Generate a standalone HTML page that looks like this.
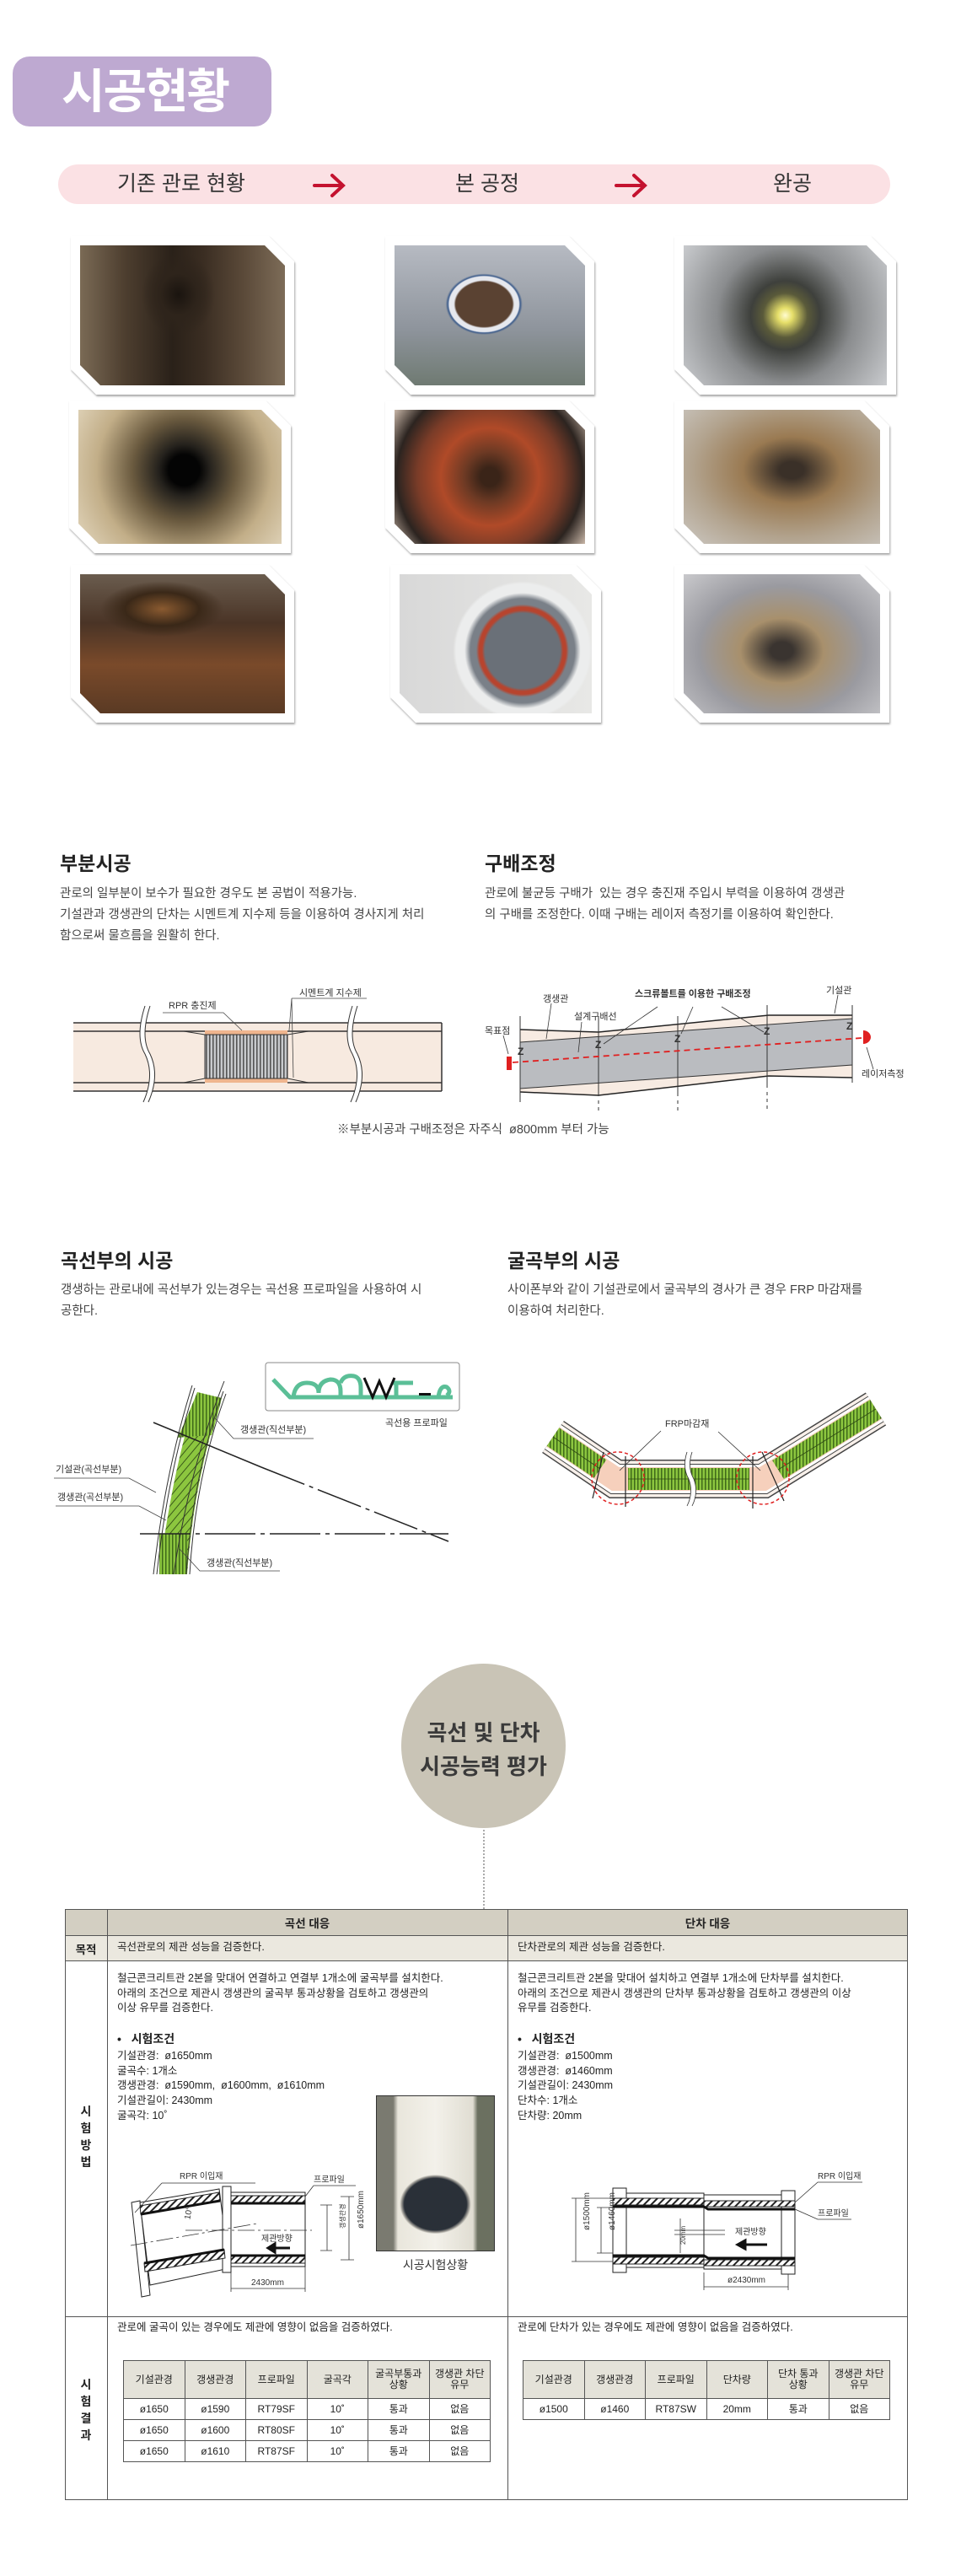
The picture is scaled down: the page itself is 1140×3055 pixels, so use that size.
<!DOCTYPE html>
<html><head><meta charset="utf-8">
<style>
*{margin:0;padding:0;box-sizing:border-box}
body{width:1140px;height:3055px;background:#fff;position:relative;overflow:hidden;font-family:"Liberation Sans","Noto Sans CJK KR",sans-serif;color:#333}
.a{position:absolute;white-space:nowrap}
.badge{left:15px;top:67px;width:307px;height:83px;background:#bea9d1;border-radius:20px;color:#fff;font-weight:bold;font-size:56px;line-height:83px;padding-left:58px;letter-spacing:-2px}
.bar{left:69px;top:195px;width:987px;height:47px;background:#fbe1e4;border-radius:24px}
.bl{font-size:25px;color:#333;top:195px;line-height:47px;transform:translateX(-50%)}
.ph{position:absolute;filter:drop-shadow(1px 2px 1px rgba(0,0,0,.35))}
.ph .f{position:absolute;inset:0;background:#fff;clip-path:polygon(0 0,calc(100% - 30px) 0,100% 30px,100% 100%,30px 100%,0 calc(100% - 30px))}
.ph .i{position:absolute;inset:11px;clip-path:polygon(0 0,calc(100% - 24px) 0,100% 24px,100% 100%,24px 100%,0 calc(100% - 24px))}
.h2{font-size:23px;font-weight:bold;color:#222}
.p{font-size:14.5px;color:#444;line-height:25px;white-space:normal}
.t{font-size:12.5px;color:#222;line-height:17.7px;white-space:normal}
table.in{position:absolute;border-collapse:collapse;table-layout:fixed;font-size:12px;color:#222;text-align:center}
table.in td{border:1.5px solid #555;padding:0;line-height:13px;width:16.66%}
table.in tr.hd td{background:#e4e2d9;height:45px}
table.in tr.r td{height:25px}
</style></head><body>

<div class="a badge">시공현황</div>
<div class="a bar"></div>
<div class="a bl" style="left:215px">기존 관로 현황</div>
<div class="a bl" style="left:578px">본 공정</div>
<div class="a bl" style="left:940px">완공</div>

<div class="ph" style="left:84px;top:280px;width:265px;height:188px"><div class="f"></div><div class="i" style="background:radial-gradient(ellipse 18% 30% at 48% 35%,#1a140f 0,#2e241b 50%,transparent 100%),linear-gradient(90deg,#7a6a55 0,#4d3e2f 22%,#2a2119 45%,#3a2d22 60%,#5b4a39 80%,#7d6c58 100%)"></div></div>
<div class="ph" style="left:457px;top:280px;width:248px;height:188px"><div class="f"></div><div class="i" style="background:radial-gradient(ellipse 24% 26% at 47% 42%,#5a4232 0 62%,#e6e8ee 66% 76%,#3a5a8a 79%,transparent 84%),linear-gradient(180deg,#b6bac2 0,#8e949c 60%,#6f7a72 100%)"></div></div>
<div class="ph" style="left:800px;top:280px;width:263px;height:188px"><div class="f"></div><div class="i" style="background:radial-gradient(circle at 50% 50%,#fffbd0 0,#e6df6a 6%,#5a5a3a 18%,#3e403c 28%,#8a8c8e 55%,#c9cbce 100%)"></div></div>

<div class="ph" style="left:82px;top:475px;width:263px;height:181px"><div class="f"></div><div class="i" style="background:radial-gradient(circle at 52% 45%,#040404 0 12%,#25221d 20%,#6a5a3f 40%,#c2ae88 68%,#e2d6bd 100%)"></div></div>
<div class="ph" style="left:457px;top:475px;width:248px;height:181px"><div class="f"></div><div class="i" style="background:radial-gradient(circle at 50% 50%,#3a2418 0 8%,#6e3a24 22%,#b04a28 42%,#7a3c28 62%,#2c2420 80%,#c9b7a8 100%)"></div></div>
<div class="ph" style="left:800px;top:475px;width:255px;height:181px"><div class="f"></div><div class="i" style="background:radial-gradient(ellipse at 55% 45%,#3a3028 0 8%,#9a7a52 32%,#b2a38e 65%,#cbc7c1 100%)"></div></div>

<div class="ph" style="left:84px;top:670px;width:265px;height:187px"><div class="f"></div><div class="i" style="background:radial-gradient(ellipse 30% 20% at 40% 25%,#8a5a30 0,#3a2818 60%,transparent 100%),linear-gradient(180deg,#6a5c4e 0,#4a3426 35%,#7a4a2a 65%,#5a3a24 100%)"></div></div>
<div class="ph" style="left:463px;top:670px;width:250px;height:187px"><div class="f"></div><div class="i" style="background:radial-gradient(circle at 64% 55%,#6a7078 0 26%,#b7442e 28% 30%,#7a8088 32% 36%,#eceded 40% 46%,transparent 48%),linear-gradient(90deg,#d8d8d8 0,#e8e8e6 100%)"></div></div>
<div class="ph" style="left:800px;top:670px;width:255px;height:187px"><div class="f"></div><div class="i" style="background:radial-gradient(ellipse at 50% 55%,#3a3430 0 8%,#a8906c 30%,#9a9aa0 60%,#c9c9cc 100%)"></div></div>

<div class="a h2" style="left:71px;top:1005px">부분시공</div>
<div class="a p" style="left:71px;top:1048px;width:480px">관로의 일부분이 보수가 필요한 경우도 본 공법이 적용가능.<br>기설관과 갱생관의 단차는 시멘트계 지수제 등을 이용하여 경사지게 처리<br>함으로써 물흐름을 원활히 한다.</div>
<div class="a h2" style="left:575px;top:1005px">구배조정</div>
<div class="a p" style="left:575px;top:1048px;width:500px">관로에 불균등 구배가&nbsp; 있는 경우 충진재 주입시 부력을 이용하여 갱생관<br>의 구배를 조정한다. 이때 구배는 레이저 측정기를 이용하여 확인한다.</div>
<div class="a" style="left:400px;top:1328px;font-size:14.5px;color:#444">※부분시공과 구배조정은 자주식&nbsp; ø800mm 부터 가능</div>

<div class="a h2" style="left:72px;top:1476px">곡선부의 시공</div>
<div class="a p" style="left:72px;top:1518px;width:500px">갱생하는 관로내에 곡선부가 있는경우는 곡선용 프로파일을 사용하여 시<br>공한다.</div>
<div class="a h2" style="left:602px;top:1476px">굴곡부의 시공</div>
<div class="a p" style="left:602px;top:1518px;width:520px">사이폰부와 같이 기설관로에서 굴곡부의 경사가 큰 경우 FRP 마감재를<br>이용하여 처리한다.</div>

<div class="a" style="left:476px;top:1973px;width:195px;height:195px;border-radius:50%;background:#c9c4b6"></div>
<div class="a" style="left:476px;top:2035px;width:195px;text-align:center;font-size:26px;font-weight:bold;color:#3a3a3a;line-height:40px;white-space:normal">곡선 및 단차<br>시공능력 평가</div>
<div class="a" style="left:573px;top:2170px;height:94px;border-left:2px dotted #aaa"></div>

<div class="a" style="left:77px;top:2264px;width:1000px;height:701px;border:1.5px solid #555"></div>
<div class="a" style="left:78px;top:2265px;width:998px;height:30px;background:#d3cfc2"></div>
<div class="a" style="left:78px;top:2295px;width:998px;height:30px;background:#ebe8df"></div>
<div class="a" style="left:77px;top:2295px;width:1000px;border-top:1.5px solid #555"></div>
<div class="a" style="left:77px;top:2325px;width:1000px;border-top:1.5px solid #555"></div>
<div class="a" style="left:77px;top:2747px;width:1000px;border-top:1.5px solid #555"></div>
<div class="a" style="left:127px;top:2264px;height:701px;border-left:1.5px solid #555"></div>
<div class="a" style="left:602px;top:2264px;height:701px;border-left:1.5px solid #555"></div>
<div class="a" style="left:127px;top:2270px;width:475px;text-align:center;font-size:13.5px;font-weight:bold;color:#222">곡선 대응</div>
<div class="a" style="left:602px;top:2270px;width:475px;text-align:center;font-size:13.5px;font-weight:bold;color:#222">단차 대응</div>
<div class="a" style="left:77px;top:2301px;width:50px;text-align:center;font-size:13.5px;font-weight:bold;color:#222">목적</div>
<div class="a t" style="left:139px;top:2301px">곡선관로의 제관 성능을 검증한다.</div>
<div class="a t" style="left:614px;top:2301px">단차관로의 제관 성능을 검증한다.</div>
<div class="a" style="left:77px;top:2494px;width:50px;text-align:center;font-size:14px;font-weight:bold;color:#222;line-height:20px;white-space:normal">시<br>험<br>방<br>법</div>
<div class="a" style="left:77px;top:2818px;width:50px;text-align:center;font-size:14px;font-weight:bold;color:#222;line-height:20px;white-space:normal">시<br>험<br>결<br>과</div>

<div class="a t" style="left:139px;top:2338px;width:460px">철근콘크리트관 2본을 맞대어 연결하고 연결부 1개소에 굴곡부를 설치한다.<br>아래의 조건으로 제관시 갱생관의 굴곡부 통과상황을 검토하고 갱생관의<br>이상 유무를 검증한다.</div>
<div class="a" style="left:139px;top:2408px;font-size:14px;font-weight:bold;color:#222">•&nbsp;&nbsp; 시험조건</div>
<div class="a t" style="left:139px;top:2430px">기설관경:&nbsp; ø1650mm<br>굴곡수: 1개소<br>갱생관경:&nbsp; ø1590mm,&nbsp; ø1600mm,&nbsp; ø1610mm<br>기설관길이: 2430mm<br>굴곡각: 10˚</div>

<div class="a t" style="left:614px;top:2338px;width:460px">철근콘크리트관 2본을 맞대어 설치하고 연결부 1개소에 단차부를 설치한다.<br>아래의 조건으로 제관시 갱생관의 단차부 통과상황을 검토하고 갱생관의 이상<br>유무를 검증한다.</div>
<div class="a" style="left:614px;top:2408px;font-size:14px;font-weight:bold;color:#222">•&nbsp;&nbsp; 시험조건</div>
<div class="a t" style="left:614px;top:2430px">기설관경:&nbsp; ø1500mm<br>갱생관경:&nbsp; ø1460mm<br>기설관길이: 2430mm<br>단차수: 1개소<br>단차량: 20mm</div>

<div class="a" style="left:446px;top:2485px;width:141px;height:185px;border:1px solid #333;background:radial-gradient(ellipse 38% 24% at 50% 70%,#2a3038 0 70%,#9c9a94 76%,transparent 80%),linear-gradient(90deg,#7a7a70 0,#7a7a70 14%,#e9e6dc 18%,#f3f1ea 50%,#e0ddd2 82%,#6b7060 86%,#6b7060 100%)"></div>
<div class="a" style="left:446px;top:2676px;width:141px;text-align:center;font-size:14px;color:#333">시공시험상황</div>

<div class="a t" style="left:139px;top:2752px">관로에 굴곡이 있는 경우에도 제관에 영향이 없음을 검증하였다.</div>
<div class="a t" style="left:614px;top:2752px">관로에 단차가 있는 경우에도 제관에 영향이 없음을 검증하였다.</div>

<table class="in" style="left:146px;top:2799px;width:436px">
<tr class="hd"><td>기설관경</td><td>갱생관경</td><td>프로파일</td><td>굴곡각</td><td>굴곡부통과<br>상황</td><td>갱생관 차단<br>유무</td></tr>
<tr class="r"><td>ø1650</td><td>ø1590</td><td>RT79SF</td><td>10˚</td><td>통과</td><td>없음</td></tr>
<tr class="r"><td>ø1650</td><td>ø1600</td><td>RT80SF</td><td>10˚</td><td>통과</td><td>없음</td></tr>
<tr class="r"><td>ø1650</td><td>ø1610</td><td>RT87SF</td><td>10˚</td><td>통과</td><td>없음</td></tr>
</table>
<table class="in" style="left:620px;top:2799px;width:436px">
<tr class="hd"><td>기설관경</td><td>갱생관경</td><td>프로파일</td><td>단차량</td><td>단차 통과<br>상황</td><td>갱생관 차단<br>유무</td></tr>
<tr class="r"><td>ø1500</td><td>ø1460</td><td>RT87SW</td><td>20mm</td><td>통과</td><td>없음</td></tr>
</table>

<svg class="a" style="left:0;top:0" width="1140" height="3055" viewBox="0 0 1140 3055" font-family="Liberation Sans, Noto Sans CJK KR, sans-serif">
<defs>
<pattern id="vs" width="4" height="10" patternUnits="userSpaceOnUse"><rect width="4" height="10" fill="#c8cacd"/><rect width="1.6" height="10" fill="#555"/></pattern>
<pattern id="gs" width="4" height="10" patternUnits="userSpaceOnUse"><rect width="4" height="10" fill="#8cc63f"/><rect width="1.5" height="10" fill="#3f6a1a"/></pattern>
<pattern id="hs" width="6" height="6" patternUnits="userSpaceOnUse" patternTransform="rotate(45)"><rect width="6" height="6" fill="#fff"/><rect width="2" height="6" fill="#222"/></pattern>
<pattern id="gh" width="7" height="7" patternUnits="userSpaceOnUse" patternTransform="rotate(40)"><rect width="7" height="7" fill="#8cc63f"/><rect width="1" height="7" fill="#3a5a1a"/></pattern>
</defs>

<g stroke="#c4122f" stroke-width="4" fill="none" stroke-linecap="round">
<path d="M373 220 H405 M394 208 L407 220 L394 232"/>
<path d="M731 220 H763 M752 208 L765 220 L752 232"/>
</g>

<g stroke="#333" stroke-width="1.5">
<rect x="87" y="1213" width="437" height="81" fill="#f7eae0" stroke="none"/>
<line x1="87" y1="1213" x2="524" y2="1213"/><line x1="87" y1="1294" x2="524" y2="1294"/>
<line x1="524" y1="1213" x2="524" y2="1294"/>
<line x1="87" y1="1223" x2="243" y2="1223"/><line x1="341" y1="1223" x2="524" y2="1223"/>
<line x1="87" y1="1284" x2="243" y2="1284"/><line x1="341" y1="1284" x2="524" y2="1284"/>
<rect x="243" y="1222" width="98" height="5" fill="#efb58e" stroke="none"/>
<rect x="243" y="1279" width="98" height="5" fill="#efb58e" stroke="none"/>
<rect x="243" y="1227" width="98" height="52" fill="url(#vs)" stroke-width="1"/>
<path d="M218 1223 L243 1227 M218 1284 L243 1279 M366 1223 L341 1227 M366 1284 L341 1279" stroke-width="1"/>
</g>
<g fill="#fff" stroke="#333" stroke-width="1">
<path d="M172 1193 Q160 1230 172 1250 Q184 1275 170 1307 L176 1307 Q190 1275 178 1250 Q166 1230 178 1193 Z" stroke="none"/>
<path d="M172 1193 Q160 1230 172 1250 Q184 1275 170 1307 M178 1193 Q166 1230 178 1250 Q190 1275 176 1307" fill="none"/>
<path d="M418 1193 Q406 1230 418 1250 Q430 1275 416 1307 L422 1307 Q436 1275 424 1250 Q412 1230 424 1193 Z" stroke="none"/>
<path d="M418 1193 Q406 1230 418 1250 Q430 1275 416 1307 M424 1193 Q412 1230 424 1250 Q436 1275 422 1307" fill="none"/>
</g>
<g stroke="#444" stroke-width="0.8" fill="none">
<path d="M193 1201 H265 L287 1222"/>
<path d="M346 1184 H435 M346 1184 L343 1222 M346 1184 L348 1278"/>
</g>
<text x="200" y="1196" font-size="11" fill="#333">RPR 충진제</text>
<text x="355" y="1181" font-size="11" fill="#333">시멘트계 지수제</text>

<polygon points="617,1221 710,1224 912,1204 1011,1204 1011,1278 912,1276 710,1299 617,1295" fill="#f7ebe2"/>
<polyline points="617,1221 710,1224 912,1204 1011,1204" fill="none" stroke="#222" stroke-width="1.5"/>
<polyline points="617,1295 710,1299 912,1276 1011,1278" fill="none" stroke="#222" stroke-width="1.5"/>
<polygon points="617,1236 1011,1208 1011,1263 617,1291" fill="#babcc0" stroke="#333" stroke-width="1"/>
<g stroke="#333" stroke-width="1">
<line x1="617" y1="1205" x2="617" y2="1307"/>
<line x1="710" y1="1206" x2="710" y2="1300"/><line x1="710" y1="1305" x2="710" y2="1321" stroke-dasharray="4 4"/>
<line x1="804" y1="1205" x2="804" y2="1300"/><line x1="804" y1="1305" x2="804" y2="1321" stroke-dasharray="4 4"/>
<line x1="910" y1="1192" x2="910" y2="1290"/><line x1="910" y1="1295" x2="910" y2="1319" stroke-dasharray="4 4"/>
<line x1="1011" y1="1192" x2="1011" y2="1284"/>
</g>
<g font-size="12" fill="#333" font-weight="bold"><text x="614" y="1251">Z</text><text x="706" y="1243">Z</text><text x="800" y="1236">Z</text><text x="906" y="1227">Z</text><text x="1004" y="1221">Z</text></g>
<line x1="608" y1="1260" x2="1022" y2="1231" stroke="#e02020" stroke-width="1.8" stroke-dasharray="7 5"/>
<rect x="601" y="1253" width="6" height="16" fill="#e02020"/>
<path d="M1024 1222 A9 8 0 0 1 1024 1238 Z" fill="#e02020"/>
<g stroke="#333" stroke-width="0.8" fill="none">
<path d="M597 1228 L603 1250"/><path d="M654 1190 L648 1232"/><path d="M690 1212 L686 1248"/>
<path d="M780 1194 L716 1238 M822 1194 L808 1226 M856 1194 L906 1224"/>
<path d="M994 1180 L990 1202"/><path d="M1036 1268 L1028 1242"/>
</g>
<g font-size="11" fill="#333">
<text x="575" y="1226">목표점</text><text x="644" y="1188">갱생관</text><text x="681" y="1209">설계구배선</text>
<text x="753" y="1182" font-weight="bold">스크류볼트를 이용한 구배조정</text>
<text x="980" y="1178">기설관</text><text x="1022" y="1277">레이저측정</text>
</g>

<rect x="315" y="1616" width="230" height="57" rx="3" fill="#fff" stroke="#888" stroke-width="1"/>
<path d="M324 1636 L344 1657 L537 1657 M348 1657 Q350 1640 364 1640 Q378 1640 378 1652 M378 1652 Q378 1638 392 1636 Q404 1636 404 1650 L404 1657 M404 1640 Q408 1630 420 1632 Q428 1634 428 1646 L428 1657 M470 1640 L470 1657 M465 1640 L490 1640 M520 1657 Q522 1642 530 1645 Q536 1650 530 1655" fill="none" stroke="#5bbf97" stroke-width="5" stroke-linejoin="round"/>
<path d="M432 1634 L442 1657 L450 1638 L458 1657 L468 1634" fill="none" stroke="#111" stroke-width="3"/>
<rect x="497" y="1652" width="14" height="3" fill="#111"/>
<text x="457" y="1691" font-size="11" fill="#333">곡선용 프로파일</text>
<path d="M234 1651 Q203 1750 189 1867 L222 1867 Q230 1755 263 1658 Z" fill="url(#gh)"/>
<path d="M234 1651 Q214 1700 210 1705 L251 1702 Q258 1680 263 1658 Z" fill="url(#gs)"/>
<rect x="189" y="1819" width="33" height="48" fill="url(#gs)"/>
<g fill="none" stroke="#333" stroke-width="1">
<path d="M228 1643 Q196 1745 182 1867"/><path d="M231 1646 Q199 1748 186 1867"/>
<path d="M268 1653 Q232 1750 225 1867"/><path d="M265 1650 Q229 1748 221 1867"/>
<path d="M266 1638 Q225 1740 206 1867"/>
</g>
<line x1="182" y1="1687" x2="310" y2="1740" stroke="#222" stroke-width="1.5"/>
<line x1="310" y1="1740" x2="532" y2="1828" stroke="#222" stroke-width="1.5" stroke-dasharray="55 6 5 6"/>
<line x1="166" y1="1819" x2="532" y2="1819" stroke="#222" stroke-width="1.5" stroke-dasharray="60 6 5 6"/>
<g stroke="#444" stroke-width="0.8" fill="none">
<path d="M372 1706 H277 L255 1682"/><path d="M64 1753 H153 L185 1770"/><path d="M66 1786 H165 L197 1803"/><path d="M332 1863 H237 L213 1837"/>
</g>
<g font-size="11" fill="#333">
<text x="285" y="1699">갱생관(직선부분)</text><text x="66" y="1746">기설관(곡선부분)</text><text x="68" y="1779">갱생관(곡선부분)</text><text x="245" y="1857">갱생관(직선부분)</text>
</g>

<g fill="none" stroke-linejoin="miter">
<polyline points="656,1704 730,1754 905,1754 1039,1671" stroke="#444" stroke-width="46"/>
<polyline points="656,1704 730,1754 905,1754 1039,1671" stroke="#f8f0ea" stroke-width="43"/>
<polyline points="656,1704 730,1754 905,1754 1039,1671" stroke="#444" stroke-width="36"/>
<polyline points="656,1704 730,1754 905,1754 1039,1671" stroke="#fff" stroke-width="34"/>
<polyline points="656,1704 730,1754 905,1754 1039,1671" stroke="#f6d0bc" stroke-width="28"/>
</g>
<polyline points="656,1704 712,1742" fill="none" stroke="url(#gs)" stroke-width="26"/>
<polyline points="745,1754 889,1754" fill="none" stroke="url(#gs)" stroke-width="26"/>
<polyline points="923,1743 1039,1671" fill="none" stroke="url(#gs)" stroke-width="26"/>
<path d="M745 1754 H889 M656 1704 L712 1742 M923 1743 L1039 1671" stroke="#2f4a14" stroke-width="0.8" fill="none"/>
<g stroke="#222" stroke-width="1.2">
<line x1="742" y1="1727" x2="742" y2="1787"/><line x1="716" y1="1722" x2="703" y2="1777"/>
<line x1="893" y1="1727" x2="893" y2="1789"/><line x1="904" y1="1722" x2="930" y2="1780"/>
</g>
<path d="M818 1722 Q812 1740 820 1754 Q826 1770 818 1786" stroke="#fff" stroke-width="6" fill="none"/>
<path d="M815 1722 Q809 1740 817 1754 Q823 1770 815 1786 M821 1722 Q815 1740 823 1754 Q829 1770 821 1786" stroke="#333" stroke-width="0.8" fill="none"/>
<circle cx="733" cy="1753" r="31" fill="none" stroke="#e02020" stroke-width="1.5" stroke-dasharray="4 3"/>
<circle cx="905" cy="1753" r="31" fill="none" stroke="#e02020" stroke-width="1.5" stroke-dasharray="4 3"/>
<path d="M784 1697 L735 1744 M852 1698 L902 1744" stroke="#333" stroke-width="0.8"/>
<text x="789" y="1692" font-size="11" fill="#333">FRP마감재</text>

<g stroke="#222" stroke-width="1" fill="#fff">
<polygon points="156,2612 166,2610 178,2722 168,2724"/>
<polygon points="166,2612 260,2596 272,2690 178,2710"/>
<polygon points="264,2593 274,2593 274,2695 264,2695"/>
<polygon points="274,2600 362,2600 362,2688 274,2688"/>
</g>
<polygon points="166,2616 260,2600 261,2610 167,2626" fill="url(#hs)" stroke="#222" stroke-width="1"/>
<polygon points="171,2684 266,2668 267,2678 172,2694" fill="url(#hs)" stroke="#222" stroke-width="1"/>
<line x1="167" y1="2626" x2="261" y2="2610" stroke="#111" stroke-width="3"/>
<line x1="171" y1="2684" x2="266" y2="2668" stroke="#111" stroke-width="3"/>
<rect x="274" y="2604" width="88" height="8" fill="url(#hs)" stroke="#222"/>
<rect x="274" y="2676" width="88" height="8" fill="url(#hs)" stroke="#222"/>
<line x1="274" y1="2613" x2="362" y2="2613" stroke="#111" stroke-width="3"/>
<line x1="274" y1="2675" x2="362" y2="2675" stroke="#111" stroke-width="3"/>
<g stroke="#333" stroke-width="0.8" fill="none">
<line x1="155" y1="2663" x2="305" y2="2637" stroke-dasharray="20 4 3 4"/>
<line x1="220" y1="2645" x2="370" y2="2645" stroke-dasharray="20 4 3 4"/>
<path d="M414 2605 V2680 M404 2605 H420 M404 2680 H420 M388 2615 V2669 M380 2615 H394 M380 2669 H394"/>
<path d="M274 2695 V2718 M362 2688 V2718 M274 2714 H362"/>
<path d="M192 2589 H303 M192 2589 L160 2624 M372 2592 H422 M372 2592 L362 2605"/>
</g>
<path d="M344 2666 H318 M318 2666 L326 2661 L326 2671 Z" stroke="#111" stroke-width="3" fill="#111"/>
<g font-size="10" fill="#333">
<text x="213" y="2584">RPR 이입재</text><text x="372" y="2588">프로파일</text><text x="310" y="2658">제관방향</text><text x="298" y="2710">2430mm</text>
<text x="218" y="2632" transform="rotate(-80 222 2628)">10°</text>
<text x="409" y="2665" transform="rotate(-90 409 2643)">ø1650mm</text>
<text x="392" y="2660" transform="rotate(-90 392 2643)" font-size="8">갱생관경</text>
</g>

<g stroke="#222" stroke-width="1" fill="#fff">
<rect x="727" y="2595" width="16" height="100"/>
<rect x="743" y="2601" width="92" height="88"/>
<rect x="835" y="2603" width="92" height="88"/>
<rect x="927" y="2598" width="16" height="99"/>
</g>
<rect x="727" y="2607" width="108" height="8" fill="url(#hs)" stroke="#222"/>
<rect x="727" y="2677" width="108" height="8" fill="url(#hs)" stroke="#222"/>
<rect x="835" y="2610" width="108" height="7" fill="url(#hs)" stroke="#222"/>
<rect x="835" y="2680" width="108" height="7" fill="url(#hs)" stroke="#222"/>
<path d="M727 2617 H835 L840 2620 H943 M727 2675 H835 L840 2678 H943" stroke="#111" stroke-width="3" fill="none"/>
<g stroke="#333" stroke-width="0.8" fill="none">
<path d="M683 2607 V2682 M678 2607 H727 M678 2682 H727 M713 2618 V2672 M708 2618 H727 M708 2672 H727"/>
<path d="M807 2631 V2672 M800 2645 H860 M800 2650 H860"/>
<path d="M835 2695 V2716 M935 2697 V2716 M835 2712 H935"/>
<path d="M1023 2588 H970 L943 2612 M1010 2632 H970 L943 2620"/>
</g>
<path d="M910 2662 H880 M875 2662 L884 2657 L884 2667 Z" stroke="#111" stroke-width="3" fill="#111"/>
<g font-size="10" fill="#333">
<text x="970" y="2584">RPR 이입재</text><text x="970" y="2628">프로파일</text><text x="872" y="2650">제관방향</text><text x="863" y="2707">ø2430mm</text>
<text x="678" y="2666" transform="rotate(-90 678 2645)">ø1500mm</text>
<text x="708" y="2666" transform="rotate(-90 708 2645)">ø1460mm</text>
<text x="803" y="2672" transform="rotate(-90 803 2662)" font-size="8">20mm</text>
</g>
</svg>
</body></html>
